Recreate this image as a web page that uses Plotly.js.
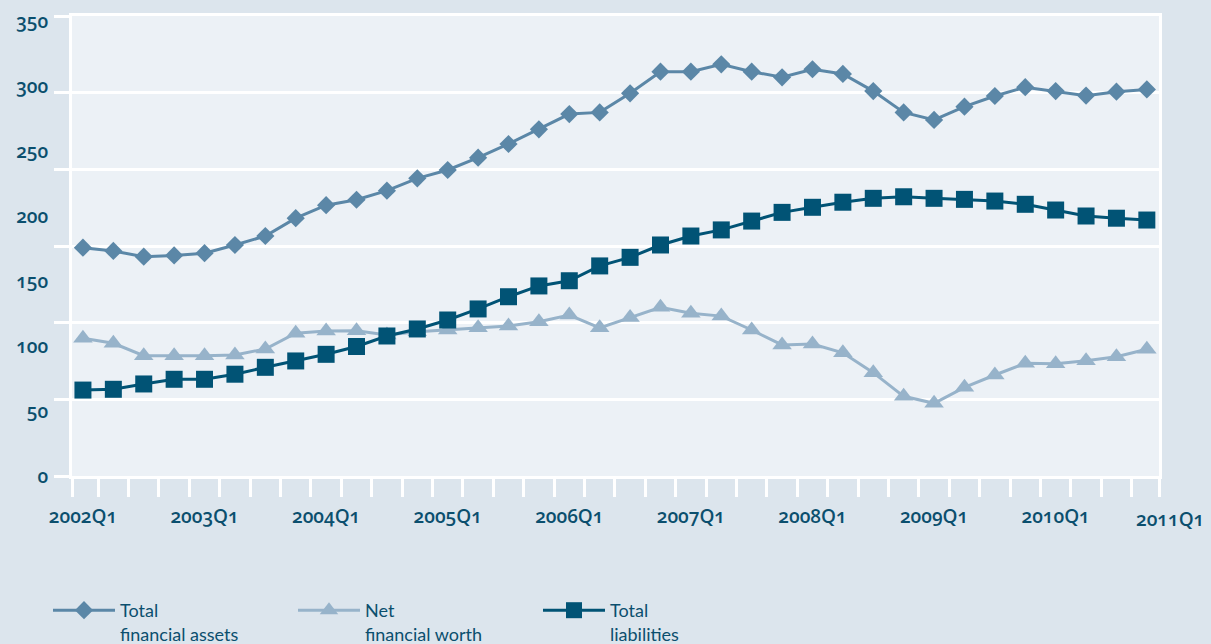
<!DOCTYPE html>
<html>
<head>
<meta charset="utf-8">
<script src="https://cdn.plot.ly/plotly-3.0.1.min.js"></script>
<style>
  html, body { margin: 0; padding: 0; background: #dce5ed; }
  #chart { width: 1211px; height: 644px; }
  /* old-style figures on the axis numbers */
  .xtick text, .ytick text, .annotation-text {
    font-variant-numeric: oldstyle-nums !important;
    font-feature-settings: "onum" 1 !important;
  }
</style>
</head>
<body>
<div id="chart"></div>
<script>
// Quarters 2002Q1 - 2010Q4
const quarters = [
  '2002Q1','2002Q2','2002Q3','2002Q4','2003Q1','2003Q2','2003Q3','2003Q4',
  '2004Q1','2004Q2','2004Q3','2004Q4','2005Q1','2005Q2','2005Q3','2005Q4',
  '2006Q1','2006Q2','2006Q3','2006Q4','2007Q1','2007Q2','2007Q3','2007Q4',
  '2008Q1','2008Q2','2008Q3','2008Q4','2009Q1','2009Q2','2009Q3','2009Q4',
  '2010Q1','2010Q2','2010Q3','2010Q4'
];

const totalFinancialAssets = [
  175.6, 173.1, 168.7, 169.7, 171.4, 177.7, 184.6, 198.3,
  208.3, 212.5, 219.5, 229.0, 235.4, 244.9, 255.4, 266.7,
  278.4, 279.7, 294.4, 311.0, 311.0, 316.7, 311.0, 306.7,
  312.9, 309.3, 296.1, 279.7, 273.9, 284.1, 292.3, 299.1,
  296.1, 292.6, 295.6, 297.4
];

const netFinancialWorth = [
  106.0, 102.1, 92.5, 92.5, 92.5, 93.1, 97.7, 109.8,
  111.5, 111.8, 108.5, 111.0, 112.3, 114.0, 115.4, 118.7,
  123.8, 114.0, 121.9, 129.8, 125.2, 123.0, 112.3, 100.8,
  101.5, 94.8, 79.5, 61.3, 55.9, 68.2, 77.7, 86.7,
  86.3, 88.7, 91.8, 97.5
];

const totalLiabilities = [
  66.1, 66.7, 70.8, 74.4, 74.4, 78.3, 83.6, 88.5,
  93.6, 99.6, 107.7, 113.1, 120.0, 128.5, 137.9, 146.2,
  150.2, 161.6, 168.2, 177.7, 184.6, 189.3, 196.1, 202.8,
  206.7, 210.6, 213.6, 214.8, 213.6, 212.8, 211.5, 209.0,
  204.6, 200.0, 198.3, 196.9
];

// Axis labels
const xLabelIdx = [0, 4, 8, 12, 16, 20, 24, 28, 32];
const xLabelText = xLabelIdx.map(i => quarters[i]);
const xEndLabel = '2011Q1';
const yTickVals = [0, 50, 100, 150, 200, 250, 300, 350];

const INK = '#0b4f6e';
const FONT = 'Lato, "Open Sans", sans-serif';
const TICK_FONT = '"Open Sans", Lato, sans-serif';
const X_RANGE = [-0.36, 35.4];
const Y_RANGE = [0, 353.85];
const Y_GRID_DIVISIONS = 6;
const X_END_LABEL_POS = 35.75;

const idx = quarters.map((q, i) => i);

// tick marks sit between quarters, plus both ends of the axis
const boundaryTicks = [X_RANGE[0]];
for (let i = 0; i < quarters.length - 1; i++) boundaryTicks.push(i + 0.5);
boundaryTicks.push(X_RANGE[1]);

// horizontal grid: equal bands over the value range
const gridVals = [];
for (let k = 0; k <= Y_GRID_DIVISIONS; k++) {
  gridVals.push(Y_RANGE[0] + (Y_RANGE[1] - Y_RANGE[0]) * k / Y_GRID_DIVISIONS);
}

const traces = [
  {
    name: 'Total<br>financial assets',
    x: idx, y: totalFinancialAssets, customdata: quarters,
    type: 'scatter', mode: 'lines+markers',
    line: { color: '#5b87a7', width: 3 },
    marker: { symbol: 'diamond', size: 14, color: '#5b87a7' },
    hovertemplate: '%{customdata}: %{y}<extra></extra>'
  },
  {
    name: 'Net<br>financial worth',
    x: idx, y: netFinancialWorth, customdata: quarters,
    type: 'scatter', mode: 'lines+markers',
    line: { color: '#97b3ca', width: 3 },
    marker: { symbol: 'triangle-up', size: 17, color: '#97b3ca' },
    hovertemplate: '%{customdata}: %{y}<extra></extra>'
  },
  {
    name: 'Total<br>liabilities',
    x: idx, y: totalLiabilities, customdata: quarters,
    type: 'scatter', mode: 'lines+markers',
    line: { color: '#015375', width: 3 },
    marker: { symbol: 'square', size: 17, color: '#015375' },
    hovertemplate: '%{customdata}: %{y}<extra></extra>'
  }
];

const tickFont = { family: TICK_FONT, color: INK, size: 19, weight: 600 };

const layout = {
  width: 1211, height: 644,
  margin: { l: 72, r: 52, t: 16, b: 168 },
  paper_bgcolor: '#dce5ed',
  plot_bgcolor: '#ecf1f6',
  font: { family: FONT, color: INK, size: 18 },
  showlegend: true,
  legend: {
    orientation: 'h',
    xref: 'container', yref: 'container',
    x: 48 / 1211, y: 1 - 592 / 644,
    xanchor: 'left', yanchor: 'top',
    valign: 'top',
    itemwidth: 62,
    entrywidth: 168,
    bgcolor: 'rgba(0,0,0,0)',
    font: { family: FONT, color: INK, size: 18 },
    itemclick: false, itemdoubleclick: false
  },
  xaxis: {
    range: X_RANGE,
    tickmode: 'array', tickvals: xLabelIdx, ticktext: xLabelText,
    ticks: '',
    ticklabelstandoff: 21,
    tickfont: tickFont,
    minor: {
      tickmode: 'array', tickvals: boundaryTicks,
      ticks: 'outside', ticklen: 18, tickwidth: 3, tickcolor: '#ffffff',
      showgrid: false
    },
    showgrid: false, zeroline: false,
    showline: true, linecolor: '#ffffff', linewidth: 3, mirror: true,
    fixedrange: true
  },
  yaxis: {
    range: Y_RANGE,
    tickmode: 'array', tickvals: yTickVals,
    ticks: '',
    ticklabelstandoff: 17,
    tickfont: tickFont,
    showgrid: false,
    minor: {
      tickmode: 'array', tickvals: gridVals,
      ticks: 'outside', ticklen: 15, tickwidth: 3, tickcolor: '#ffffff',
      showgrid: true, gridcolor: '#ffffff', gridwidth: 3
    },
    zeroline: false,
    showline: true, linecolor: '#ffffff', linewidth: 3, mirror: true,
    fixedrange: true
  },
  annotations: [
    {
      text: xEndLabel,
      xref: 'paper', yref: 'paper',
      x: (X_END_LABEL_POS - X_RANGE[0]) / (X_RANGE[1] - X_RANGE[0]),
      y: 0, yshift: -43,
      xanchor: 'center', yanchor: 'middle',
      showarrow: false,
      font: tickFont
    }
  ]
};

Plotly.newPlot('chart', traces, layout, { displayModeBar: false });
</script>
</body>
</html>
